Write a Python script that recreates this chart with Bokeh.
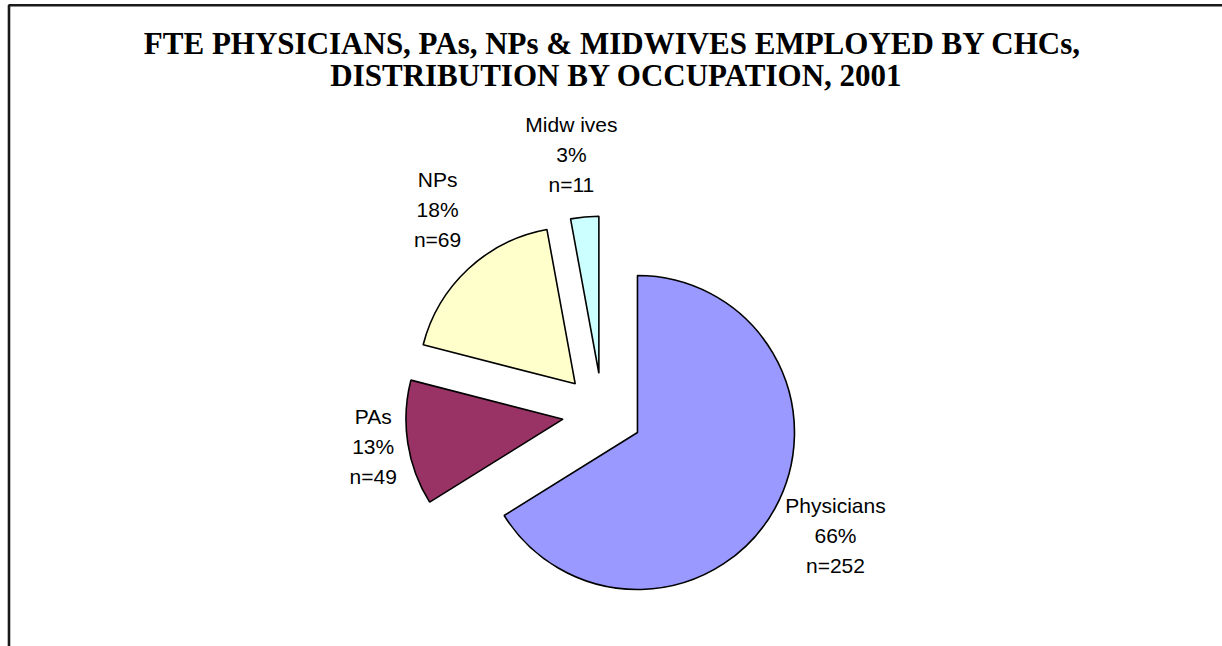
import math
from bokeh.plotting import figure
from bokeh.models import ColumnDataSource, Range1d
from bokeh.embed import file_html
from bokeh.resources import INLINE
from bokeh.core.properties import value

# ---- data ----
categories = ["Physicians", "PAs", "NPs", "Midwives"]
label_names = ["Physicians", "PAs", "NPs", "Midw ives"]
counts = [252, 49, 69, 11]
title_lines = ["FTE PHYSICIANS, PAs, NPs & MIDWIVES EMPLOYED BY CHCs,",
               "DISTRIBUTION BY OCCUPATION, 2001"]

# ---- style / layout ----
colors = ["#9999FF", "#993366", "#FFFFCC", "#CCFFFF"]
W, H = 1222, 646
pie_cx, pie_cy = 602.0, H - 412.6      # pie centre (data units = pixels, y up)
radius = 157.0
explode = 40.0
label_r = [264, 232, 261, 259]
label_dtheta = [-1.0, 0.0, 3.8, -1.7]
line_gap = 30.0
label_shift = 9.0     # baseline correction for the text renderer
title_shift = 13.5

p = figure(width=W, height=H, x_range=Range1d(0, W), y_range=Range1d(0, H),
           output_backend="svg", toolbar_location=None,
           x_axis_location=None, y_axis_location=None, min_border=0)
p.grid.visible = False
p.outline_line_color = None
p.background_fill_color = "white"
p.border_fill_color = "white"

# frame (top and left edges visible; extends beyond the window)
p.quad(left=[8.5], right=[W + 50], top=[H - 4.7], bottom=[-50],
       fill_color=None, line_color="#1a1a1a", line_width=2.6)

total = sum(counts)
xs, ys, sa, ea = [], [], [], []
lx, ly, ltxt = [], [], []
cum = 0.0
for i, n in enumerate(counts):
    s = cum
    e = cum + 360.0 * n / total
    cum = e
    mid = math.radians((s + e) / 2)
    cx = pie_cx + explode * math.sin(mid)
    cy = pie_cy + explode * math.cos(mid)
    xs.append(cx)
    ys.append(cy)
    sa.append(90.0 - e)
    ea.append(90.0 - s)
    la = math.radians((s + e) / 2 + label_dtheta[i])
    mx = pie_cx + label_r[i] * math.sin(la)
    my = pie_cy + label_r[i] * math.cos(la) - 7.5 + label_shift
    pct = f"{round(100.0 * n / total)}%"
    for k, t in enumerate([label_names[i], pct, f"n={n}"]):
        lx.append(mx)
        ly.append(my + line_gap * (1 - k))
        ltxt.append(t)

src = ColumnDataSource(dict(x=xs, y=ys, start=sa, end=ea, color=colors, cat=categories))
p.wedge(x="x", y="y", radius=radius, start_angle="start", end_angle="end",
        start_angle_units="deg", end_angle_units="deg",
        fill_color="color", line_color="black", line_width=1.6, source=src)

lsrc = ColumnDataSource(dict(x=lx, y=ly, text=ltxt))
p.text(x="x", y="y", text="text", source=lsrc, text_align="center",
       text_baseline="alphabetic", text_font=value("Liberation Sans"),
       text_font_size=value("21px"), text_color="black")

tsrc = ColumnDataSource(dict(x=[612, 616], y=[H - 56 + title_shift, H - 88 + title_shift],
                             text=title_lines))
p.text(x="x", y="y", text="text", source=tsrc, text_align="center",
       text_baseline="alphabetic", text_font=value("Liberation Serif"),
       text_font_style="bold", text_font_size=value("31px"), text_color="black")

open("out.html", "w").write(file_html(p, INLINE))
